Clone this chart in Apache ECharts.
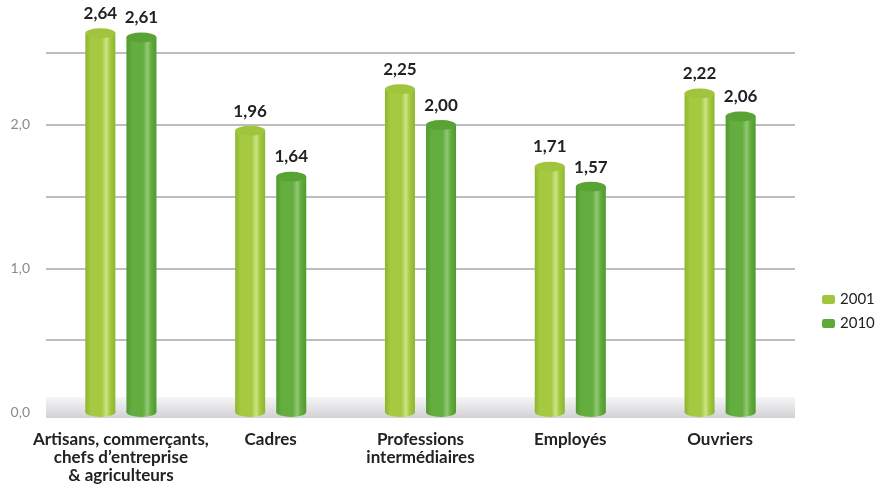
<!DOCTYPE html>
<html>
<head>
<meta charset="utf-8">
<script src="https://cdn.jsdelivr.net/npm/echarts@6/dist/echarts.min.js"></script>
<style>
  html, body { margin: 0; padding: 0; background: #fff; }
  #main { width: 876px; height: 486px; }
</style>
</head>
<body>
<div id="main"></div>
<script>
  var categories = ['Artisans, commerçants,\nchefs d\u2019entreprise\n& agriculteurs', 'Cadres', 'Professions\nintermédiaires', 'Employés', 'Ouvriers'];
  var seriesNames = ['2001', '2010'];
  var values2001 = [2.64, 1.96, 2.25, 1.71, 2.22];
  var values2010 = [2.61, 1.64, 2.00, 1.57, 2.06];

  var myChart = echarts.init(document.getElementById('main'));

  // cylindre : dégradé horizontal avec un reflet clair
  function cyl(edge, mid, light) {
    return new echarts.graphic.LinearGradient(0, 0, 1, 0, [
      { offset: 0, color: edge },
      { offset: 0.18, color: mid },
      { offset: 0.55, color: mid },
      { offset: 0.7, color: light },
      { offset: 0.82, color: mid },
      { offset: 1, color: edge }
    ]);
  }
  var col2001 = cyl('#8db52c', '#a5ca42', '#cde384');
  var col2010 = cyl('#4f9a2e', '#64ad3f', '#92c874');

  var barW = 30;
  var off = 20.5;
  var fmt = function (v) { return v.toFixed(2).replace('.', ','); };

  var option = {
    backgroundColor: '#fff',
    textStyle: { fontFamily: 'Lato' },
    grid: { left: 46, right: 81, top: 53, bottom: 74 },
    legend: {
      orient: 'vertical',
      left: 817,
      top: 287,
      itemGap: 9,
      itemWidth: 13,
      itemHeight: 9,
      icon: 'roundRect',
      textStyle: { color: '#222', fontSize: 15, fontFamily: 'Lato' },
      data: [
        { name: seriesNames[0], itemStyle: { color: '#9fc63c' } },
        { name: seriesNames[1], itemStyle: { color: '#5ea83a' } }
      ]
    },
    xAxis: {
      type: 'category',
      data: categories,
      offset: -5,
      axisLine: {
        show: true,
        lineStyle: {
          width: 21,
          cap: 'butt',
          color: new echarts.graphic.LinearGradient(0, 0, 0, 1, [
            { offset: 0, color: '#f6f6f7' },
            { offset: 1, color: '#d2d2d5' }
          ])
        }
      },
      axisTick: { show: false },
      axisLabel: {
        margin: 24,
        color: '#222',
        fontSize: 17,
        fontWeight: 'bold',
        lineHeight: 18,
        fontFamily: 'Lato',
        interval: 0
      }
    },
    yAxis: {
      type: 'value',
      min: 0,
      max: 2.5,
      interval: 0.5,
      axisLine: { show: false },
      axisTick: { show: false },
      axisLabel: {
        margin: 16,
        color: '#8a8a8a',
        fontSize: 14,
        fontFamily: 'Lato',
        formatter: function (v) {
          return (Math.abs(v - Math.round(v)) < 1e-6) ? v.toFixed(1).replace('.', ',') : '';
        }
      },
      splitLine: { lineStyle: { color: '#a8a8a8', width: 1.5 } }
    },
    series: [
      {
        name: seriesNames[0],
        type: 'bar',
        barWidth: barW,
        barGap: '37%',
        clip: false,
        itemStyle: { color: col2001 },
        label: {
          show: true, position: 'top', distance: 11,
          color: '#222', fontSize: 17, fontWeight: 'bold', fontFamily: 'Lato',
          formatter: function (p) { return fmt(p.value); }
        },
        data: values2001,
        z: 2
      },
      {
        name: seriesNames[1],
        type: 'bar',
        barWidth: barW,
        clip: false,
        itemStyle: { color: col2010 },
        label: {
          show: true, position: 'top', distance: 11,
          color: '#222', fontSize: 17, fontWeight: 'bold', fontFamily: 'Lato',
          formatter: function (p) { return fmt(p.value); }
        },
        data: values2010,
        z: 2
      },
      // couvercles
      {
        name: seriesNames[0], type: 'pictorialBar', symbol: 'circle',
        symbolSize: [barW, 10], symbolPosition: 'end', symbolOffset: [-off, '-50%'],
        itemStyle: { color: '#a0c53d', borderColor: '#bcd96c', borderWidth: 1 },
        data: values2001, z: 4, silent: true, clip: false
      },
      {
        name: seriesNames[1], type: 'pictorialBar', symbol: 'circle',
        symbolSize: [barW, 10], symbolPosition: 'end', symbolOffset: [off, '-50%'],
        itemStyle: { color: '#59a335', borderColor: '#7cbd5b', borderWidth: 1 },
        data: values2010, z: 4, silent: true, clip: false
      },
      // fonds
      {
        name: seriesNames[0], type: 'pictorialBar', symbol: 'circle',
        symbolSize: [barW, 10], symbolPosition: 'start', symbolOffset: [-off, '50%'],
        itemStyle: { color: col2001 },
        data: values2001, z: 1, silent: true, clip: false
      },
      {
        name: seriesNames[1], type: 'pictorialBar', symbol: 'circle',
        symbolSize: [barW, 10], symbolPosition: 'start', symbolOffset: [off, '50%'],
        itemStyle: { color: col2010 },
        data: values2010, z: 1, silent: true, clip: false
      }
    ]
  };
  myChart.setOption(option);
</script>
</body>
</html>
